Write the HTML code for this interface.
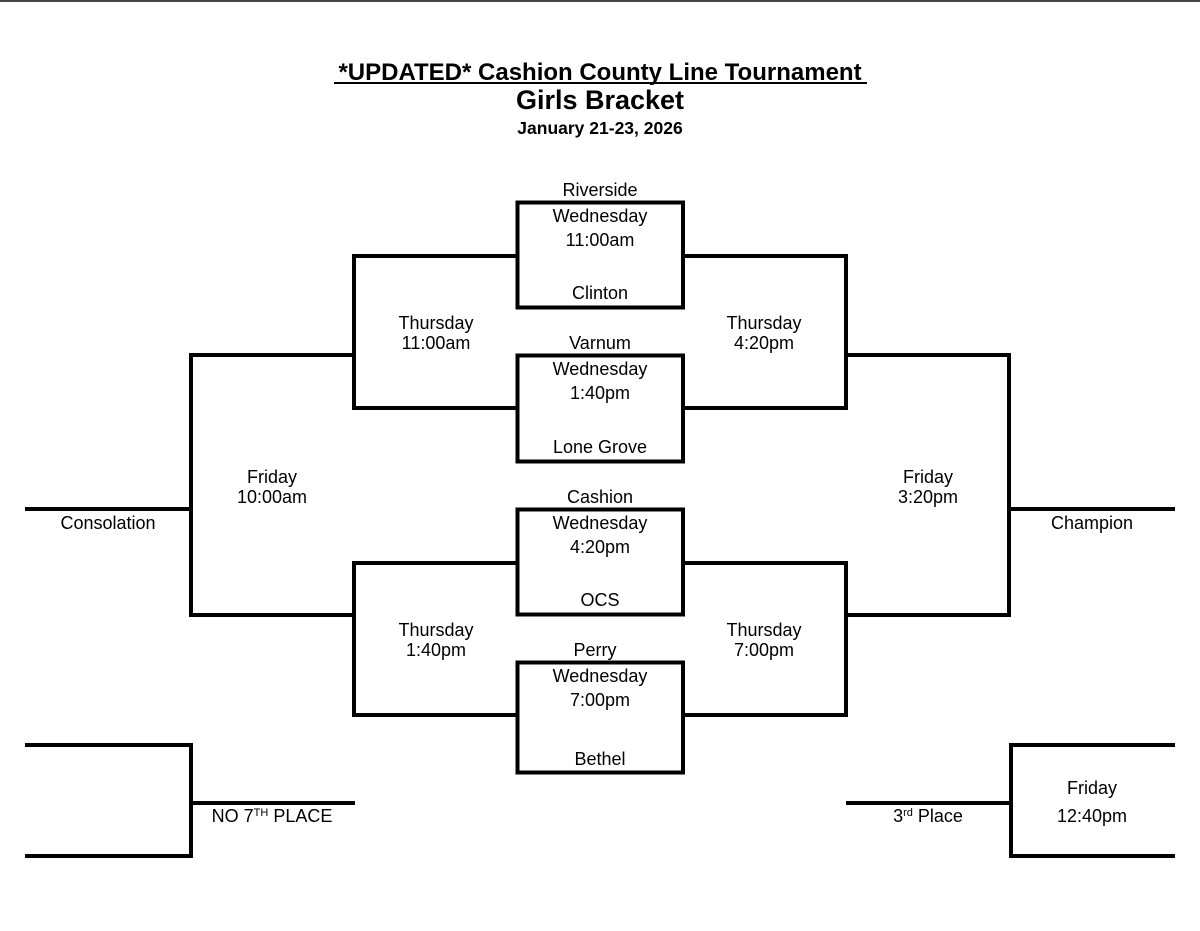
<!DOCTYPE html>
<html><head><style>
body{margin:0;background:#fff;width:1200px;height:931px;overflow:hidden;font-family:"Liberation Sans",Arial,sans-serif}
</style></head><body>
<svg width="1200" height="931" xmlns="http://www.w3.org/2000/svg" style="position:absolute;left:0;top:0">
<rect x="0" y="0" width="1200" height="2" fill="#444"/>
<g font-family="Liberation Sans, Arial, sans-serif" text-anchor="middle" fill="#000">
<text x="600" y="80" font-size="24" font-weight="bold">*UPDATED* Cashion County Line Tournament</text>
<line x1="334" y1="83" x2="867" y2="83" stroke="#000" stroke-width="2"/>
<text x="600" y="109" font-size="27" font-weight="bold">Girls Bracket</text>
<text x="600" y="134" font-size="17.5" font-weight="bold">January 21-23, 2026</text>
</g>
<g fill="none" stroke="#000" stroke-width="4">
<rect x="517.5" y="202.5" width="165.5" height="105"/>
<rect x="517.5" y="355.5" width="165.5" height="106"/>
<rect x="517.5" y="509.5" width="165.5" height="105"/>
<rect x="517.5" y="662.5" width="165.5" height="110"/>
<polyline points="517,256 354,256 354,408 517,408"/>
<polyline points="517,563 354,563 354,715 517,715"/>
<polyline points="683,256 846,256 846,408 683,408"/>
<polyline points="683,563 846,563 846,715 683,715"/>
<polyline points="354,355 191,355 191,615 354,615"/>
<polyline points="846,355 1009,355 1009,615 846,615"/>
<line x1="25" y1="509" x2="191" y2="509"/>
<line x1="1009" y1="509" x2="1175" y2="509"/>
<polyline points="25,745 191,745 191,856 25,856"/>
<line x1="191" y1="803" x2="355" y2="803"/>
<polyline points="1175,745 1011,745 1011,856 1175,856"/>
<line x1="846" y1="803" x2="1011" y2="803"/>
</g>
<g font-family="Liberation Sans, Arial, sans-serif" font-size="18" text-anchor="middle" fill="#000">
<text x="600" y="196">Riverside</text>
<text x="600" y="222">Wednesday</text>
<text x="600" y="246">11:00am</text>
<text x="600" y="299">Clinton</text>
<text x="600" y="349">Varnum</text>
<text x="600" y="375">Wednesday</text>
<text x="600" y="399">1:40pm</text>
<text x="600" y="453">Lone Grove</text>
<text x="600" y="503">Cashion</text>
<text x="600" y="529">Wednesday</text>
<text x="600" y="553">4:20pm</text>
<text x="600" y="606">OCS</text>
<text x="595" y="656">Perry</text>
<text x="600" y="682">Wednesday</text>
<text x="600" y="706">7:00pm</text>
<text x="600" y="765">Bethel</text>
<text x="436" y="329">Thursday</text>
<text x="436" y="349">11:00am</text>
<text x="764" y="329">Thursday</text>
<text x="764" y="349">4:20pm</text>
<text x="436" y="636">Thursday</text>
<text x="436" y="656">1:40pm</text>
<text x="764" y="636">Thursday</text>
<text x="764" y="656">7:00pm</text>
<text x="272" y="483">Friday</text>
<text x="272" y="503">10:00am</text>
<text x="928" y="483">Friday</text>
<text x="928" y="503">3:20pm</text>
<text x="108" y="529">Consolation</text>
<text x="1092" y="529">Champion</text>
<text x="1092" y="794">Friday</text>
<text x="1092" y="822">12:40pm</text>
<text x="272" y="822">NO 7<tspan font-size="11" dy="-6">TH</tspan><tspan dy="6"> PLACE</tspan></text>
<text x="928" y="822">3<tspan font-size="11" dy="-6">rd</tspan><tspan dy="6"> Place</tspan></text>
</g>
</svg>
</body></html>
